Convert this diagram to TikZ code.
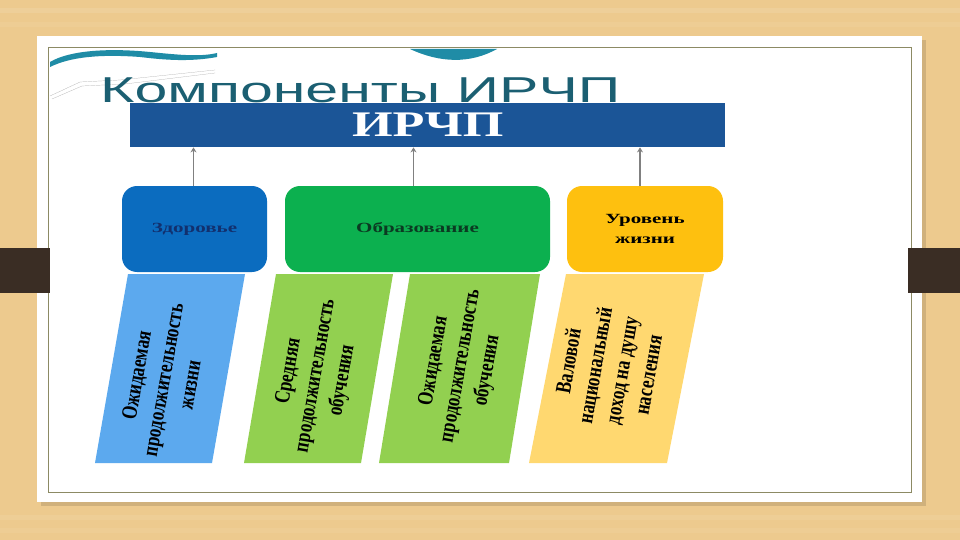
\documentclass[tikz,border=0pt]{standalone}
\usepackage{fontspec}
\usepackage{graphicx}
\setmainfont{Liberation Serif}
\newfontfamily\titlefont{Liberation Sans}
\usetikzlibrary{arrows.meta,positioning}
\definecolor{wood}{HTML}{EDCA8E}
\definecolor{bark}{HTML}{3A2D24}
\definecolor{frame}{HTML}{8C8A64}
\definecolor{swoosh}{HTML}{1F8CA6}
\definecolor{ttl}{HTML}{1B5F72}
\definecolor{barblue}{HTML}{1B5597}
\definecolor{health}{HTML}{0B6CBF}
\definecolor{healthtx}{HTML}{12306E}
\definecolor{edu}{HTML}{0CB04F}
\definecolor{edutx}{HTML}{0B3A22}
\definecolor{life}{HTML}{FEC00F}
\definecolor{healthlt}{HTML}{5CA9EE}
\definecolor{edult}{HTML}{92D050}
\definecolor{lifelt}{HTML}{FFD870}
\newcommand{\wider}[1]{\scalebox{1.5}[1]{#1}}

\begin{document}
\begin{tikzpicture}[x=1pt, y=-1pt,
  comp/.style={rounded corners=15pt, minimum height=86pt, inner sep=0pt, align=center,
    font=\bfseries\fontsize{14}{20}\selectfont},
  link/.style={black!50, line width=1.3pt, -{Stealth[length=5pt, width=6pt]}},
  measure/.style={rotate=80, xscale=0.78, align=center, inner sep=0pt, font=\bfseries\fontsize{22}{27}\selectfont}]
\useasboundingbox (0,0) rectangle (960,540);
% wooden desk and the slide on it
\fill[wood] (0,0) rectangle (960,540);
\foreach \y/\o in {8/0.10, 22/0.06, 515/0.08, 528/0.06} { \fill[white, opacity=\o] (0,\y) rectangle (960,\y+5); }
\fill[black, opacity=0.12] (41,40) rectangle (926,506);
\fill[white] (37,36) rectangle (922,502);
\draw[frame, line width=1pt] (48,48) rectangle (911,492);
\fill[bark] (0,248) rectangle (50,293);
\fill[bark] (908,248) rectangle (960,293);
% decoration of the slide template
\fill[swoosh] (50,62) .. controls (70,50) and (110,48) .. (150,52) .. controls (180,55) and (200,57) .. (217,53) -- (217,57) .. controls (190,62) and (165,60) .. (140,57) .. controls (100,54) and (70,57) .. (50,67) -- cycle;
\fill[swoosh] (410,49) .. controls (440,63) and (470,64) .. (497,49) -- cycle;
\draw[black!35, very thin] (50,96) -- (80,82) -- (120,80) -- (215,70);
\draw[black!35, very thin] (52,99) -- (82,86) -- (125,84) -- (215,73);
% title and the index bar
\node[anchor=base west, text=ttl, inner sep=0pt, font=\titlefont\fontsize{36}{40}\selectfont] (title) at (100,103) {\scalebox{1.64}[1]{Компоненты ИРЧП}};
\node[fill=barblue, anchor=north west, minimum width=595pt, minimum height=44pt, inner sep=0pt, text=white,
  font=\bfseries\fontsize{36}{40}\selectfont] (irchp) at (130,103) {\scalebox{1.45}[1]{ИРЧП}};
% the three components
\node[comp, fill=health, text=healthtx, minimum width=145pt] (health) at (194.5,229) {\wider{Здоровье}};
\node[comp, fill=edu, text=edutx, minimum width=265pt] (edu) at (417.5,229) {\wider{Образование}};
\node[comp, fill=life, text=black, minimum width=156pt] (life) at (645,229) {\wider{Уровень}\\\wider{жизни}};
\draw[link] ([xshift=-1pt]health.north) -- ([xshift=-1pt]health.north |- irchp.south);
\draw[link] ([xshift=-4pt]edu.north) -- ([xshift=-4pt]edu.north |- irchp.south);
\draw[link] ([xshift=-5pt]life.north) -- ([xshift=-5pt]life.north |- irchp.south);
% slanted measures under each component
\foreach \tx/\bx/\w/\c in {128/95/117/healthlt, 276/244/117/edult, 410/379/130/edult, 566/529/138/lifelt}
  { \fill[\c] (\tx,274) -- ++(\w,0) -- (\bx+\w,463) -- (\bx,463) -- cycle; }
\node[measure] (lifespan) at (163,380) {Ожидаемая\\продолжительность\\жизни};
\node[measure] (meanyears) at (316,376) {Средняя\\продолжительность\\обучения};
\node[measure] (expyears) at (461,366) {Ожидаемая\\продолжительность\\обучения};
\node[measure] (gni) at (608,368) {Валовой\\национальный\\доход на душу\\населения};
\end{tikzpicture}
\end{document}
